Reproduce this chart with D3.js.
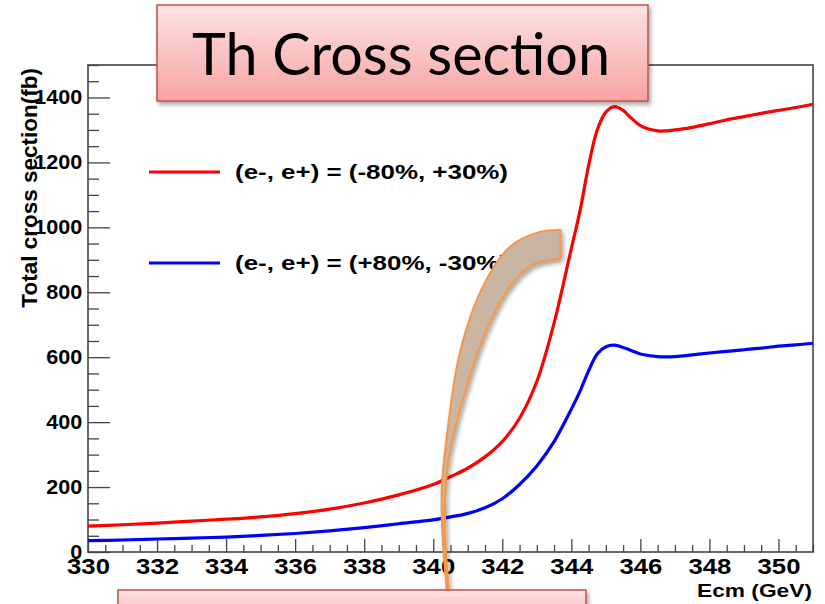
<!DOCTYPE html>
<html>
<head>
<meta charset="utf-8">
<script src="https://cdn.jsdelivr.net/npm/d3@7"></script>
<style>
  body { margin: 0; background: #fff; }
  text { font-family: "Liberation Sans", Arial, sans-serif; }
</style>
</head>
<body>
<figure id="chart" style="margin:0"></figure>
<script>
// centre-of-mass energy (GeV)
const energy = [330, 331, 332, 333, 334, 335, 336, 337, 338, 339, 340,
  340.5, 341, 341.5, 342, 342.5, 343, 343.5, 344,
  344.25, 344.5, 344.75, 345, 345.25, 345.5, 345.75, 346,
  346.5, 347, 347.5, 348, 348.5, 349, 349.5, 350, 350.5, 351];

// total cross section (fb), (e-, e+) = (-80%, +30%)
const xsecLeft = [80, 84, 89, 95, 101, 108, 118, 132, 151, 176, 208,
  232, 258, 293, 340, 412, 525, 705, 935,
  1050, 1190, 1300, 1355, 1372, 1360, 1335, 1313,
  1297, 1300, 1308, 1319, 1331, 1341, 1351, 1360, 1369, 1379];

// total cross section (fb), (e-, e+) = (+80%, -30%)
const xsecRight = [35, 37, 40, 43, 46, 51, 57, 65, 75, 87, 99,
  108, 119, 136, 164, 208, 265, 340, 440,
  495, 558, 610, 632, 637, 630, 620, 610,
  602, 602, 607, 613, 618, 623, 628, 634, 638, 643];

const seriesNames = ["(e-, e+) = (-80%, +30%)", "(e-, e+) = (+80%, -30%)"];
const xTicks = [330, 332, 334, 336, 338, 340, 342, 344, 346, 348, 350];
const yTicks = [0, 200, 400, 600, 800, 1000, 1200, 1400];

// annotation band (slide arrow) in data units: outer and inner edge
const arrowOuter = [[343.69, 992], [343.08, 986], [342.21, 939], [341.43, 816], [340.77, 613],
  [340.39, 354], [340.25, 200], [340.25, 99], [340.30, -3], [340.39, -117], [340.42, -209]];
const arrowInner = [[340.48, -209], [340.45, -117], [340.37, -3], [340.34, 99], [340.36, 200],
  [340.48, 305], [340.97, 508], [341.55, 684], [342.21, 816], [342.88, 884], [343.57, 902], [343.69, 905]];

const W = 825, H = 604;
const mLeft = 88, mRight = 813, mTop = 65, mBottom = 552;

const svg = d3.select("#chart").append("svg")
  .attr("width", W).attr("height", H);

const defs = svg.append("defs");
defs.append("filter").attr("id", "shadow")
  .attr("x", "-10%").attr("y", "-10%").attr("width", "130%").attr("height", "140%")
  .append("feDropShadow")
  .attr("dx", 2).attr("dy", 3).attr("stdDeviation", 2)
  .attr("flood-color", "#000").attr("flood-opacity", 0.35);
const grad = defs.append("linearGradient").attr("id", "pinkGrad")
  .attr("x1", 0).attr("y1", 0).attr("x2", 0).attr("y2", 1);
grad.append("stop").attr("offset", "0%").attr("stop-color", "#fde3e3");
grad.append("stop").attr("offset", "100%").attr("stop-color", "#f8a3a3");
const grad2 = defs.append("linearGradient").attr("id", "bandGrad")
  .attr("x1", 0).attr("y1", 0).attr("x2", 1).attr("y2", 1);
grad2.append("stop").attr("offset", "0%").attr("stop-color", "#cdb9a6");
grad2.append("stop").attr("offset", "100%").attr("stop-color", "#c2ae9c");

const x = d3.scaleLinear().domain([330, 351]).range([mLeft, mRight]);
const y = d3.scaleLinear().domain([0, 1500]).range([mBottom, mTop]);

// minor ticks
const xMinor = d3.range(330, 351.01, 0.5).filter(v => !xTicks.includes(v));
const yMinor = d3.range(0, 1500.1, 50).filter(v => !yTicks.includes(v));

const axisColor = "#444";

// x axis (ticks point inward)
const gx = svg.append("g").attr("transform", "translate(0," + mBottom + ")");
gx.append("g").call(d3.axisBottom(x).tickValues(xMinor).tickSize(-7).tickSizeOuter(0).tickFormat(""));
const gxMajor = gx.append("g").call(d3.axisBottom(x).tickValues(xTicks).tickSize(-13)
  .tickSizeOuter(0).tickPadding(6).tickFormat(d3.format("d")));
gx.selectAll(".domain").remove();
gx.selectAll("line").attr("stroke", axisColor).attr("stroke-width", 1.3);
gxMajor.selectAll("text")
  .attr("fill", "#000")
  .style("font-size", "23px").style("font-weight", "bold")
  .attr("transform", "scale(1.12,1)");

// y axis
const gy = svg.append("g").attr("transform", "translate(" + mLeft + ",0)");
gy.append("g").call(d3.axisLeft(y).tickValues(yMinor).tickSize(-11).tickSizeOuter(0).tickFormat(""));
const gyMajor = gy.append("g").call(d3.axisLeft(y).tickValues(yTicks).tickSize(-22)
  .tickSizeOuter(0).tickPadding(6).tickFormat(d3.format("d")));
gy.selectAll(".domain").remove();
gy.selectAll("line").attr("stroke", axisColor).attr("stroke-width", 1.3);
gyMajor.selectAll("text")
  .attr("fill", "#000")
  .attr("x", -6 / 1.12)
  .style("font-size", "20px").style("font-weight", "bold")
  .attr("transform", "scale(1.08,1)");

// frame
svg.append("rect")
  .attr("x", mLeft).attr("y", mTop)
  .attr("width", mRight - mLeft).attr("height", mBottom - mTop)
  .attr("fill", "none").attr("stroke", axisColor).attr("stroke-width", 1.6);

// axis titles
svg.append("text")
  .attr("transform", "translate(37,68) rotate(-90)")
  .attr("text-anchor", "end")
  .style("font-size", "22.5px").style("font-weight", "bold")
  .text("Total cross section(fb)");

svg.append("text")
  .attr("x", 812).attr("y", 597)
  .attr("text-anchor", "end")
  .attr("textLength", 115).attr("lengthAdjust", "spacingAndGlyphs")
  .style("font-size", "19px").style("font-weight", "bold")
  .text("Ecm (GeV)");

// curves
const line = d3.line()
  .x(d => x(d[0]))
  .y(d => y(d[1]))
  .curve(d3.curveCatmullRom.alpha(0.5));

const series = [
  { name: seriesNames[0], values: xsecLeft, color: "#ff0000" },
  { name: seriesNames[1], values: xsecRight, color: "#0000ff" }
];

svg.selectAll("path.curve")
  .data(series)
  .enter()
  .append("path")
  .attr("class", "curve")
  .attr("d", s => line(energy.map((e, i) => [e, s.values[i]])))
  .attr("fill", "none")
  .attr("stroke", s => s.color)
  .attr("stroke-width", 3.2);

// legend
const legend = svg.selectAll("g.legend")
  .data(series)
  .enter()
  .append("g")
  .attr("class", "legend")
  .attr("transform", (d, i) => "translate(0," + (172 + i * 91) + ")");
legend.append("line")
  .attr("x1", 149).attr("x2", 220)
  .attr("stroke", d => d.color).attr("stroke-width", 3.2);
legend.append("text")
  .attr("x", 235).attr("y", 7)
  .attr("textLength", 273).attr("lengthAdjust", "spacingAndGlyphs")
  .style("font-size", "21px").style("font-weight", "bold")
  .text(d => d.name);

// curved annotation band
const band = d3.line().x(d => x(d[0])).y(d => y(d[1])).curve(d3.curveCatmullRom);
svg.append("path")
  .attr("d", band(arrowOuter) + band(arrowInner).replace(/^M/, "L") + "Z")
  .attr("fill", "url(#bandGrad)")
  .attr("stroke", "#f79646").attr("stroke-width", 2)
  .attr("stroke-linejoin", "round")
  .attr("filter", "url(#shadow)");

// title box
svg.append("rect")
  .attr("x", 157).attr("y", 5).attr("width", 491).attr("height", 96)
  .attr("fill", "url(#pinkGrad)")
  .attr("stroke", "#c0504d").attr("stroke-width", 1.5)
  .attr("filter", "url(#shadow)");
svg.append("text")
  .attr("x", 401).attr("y", 75)
  .attr("text-anchor", "middle")
  .attr("textLength", 418).attr("lengthAdjust", "spacingAndGlyphs")
  .style("font-family", "Lato, 'Open Sans', sans-serif")
  .style("font-size", "58px")
  .text("Th Cross section");

// bottom box
svg.append("rect")
  .attr("x", 118).attr("y", 590).attr("width", 468).attr("height", 40)
  .attr("fill", "url(#pinkGrad)")
  .attr("stroke", "#c0504d").attr("stroke-width", 1.5)
  .attr("filter", "url(#shadow)");
</script>
</body>
</html>
